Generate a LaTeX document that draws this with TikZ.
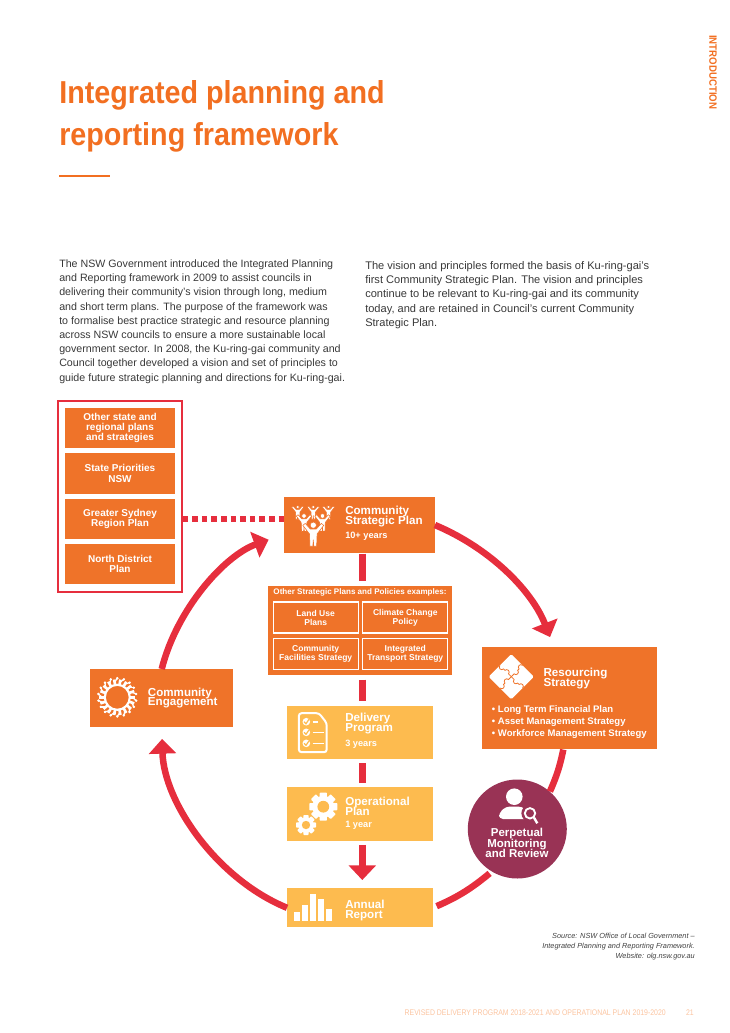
\documentclass[tikz,border=0pt]{standalone}
\usepackage{fontspec}
\setmainfont{Liberation Sans}
\newfontfamily\titlefont[FakeStretch=0.905]{Liberation Sans}
\newfontfamily\footfont[FakeStretch=0.85]{Liberation Sans}
\usetikzlibrary{arrows.meta}

\definecolor{planorange}{HTML}{EF7329}
\definecolor{planyellow}{HTML}{FDBB4F}
\definecolor{planred}{HTML}{E62E3D}
\definecolor{planmaroon}{HTML}{993355}
\definecolor{headorange}{HTML}{F26F21}
\definecolor{footorange}{HTML}{FBC4A0}

\def\pxu{0.75pt}
\newcommand{\tightlines}{\lineskiplimit=-10pt\relax}

\tikzset{
    box/.style={fill=#1, inner sep=0pt, text=white, align=center},
    box/.default=planorange,
    sidebox/.style={box, minimum width=110*\pxu, minimum height=40.5*\pxu,
        font=\bfseries\fontsize{7.5}{7.8}\selectfont\tightlines},
    framebox/.style={draw=white, line width=0.8pt, inner sep=0pt, text=white, align=center,
        minimum width=85*\pxu, minimum height=31*\pxu,
        font=\bfseries\fontsize{6.4}{6.8}\selectfont\tightlines},
    steptitle/.style={anchor=west, inner sep=0pt, text=white, align=left,
        font=\bfseries\fontsize{8.7}{7.4}\selectfont\tightlines},
    stepyears/.style={anchor=west, inner sep=0pt, text=white,
        font=\bfseries\fontsize{6.9}{8}\selectfont},
    bodytext/.style={anchor=north west, inner sep=0pt, align=left, text=black!78,
        font=\fontsize{8}{10.65}\selectfont},
    ring/.style={draw=planred, line width=4.9pt},
    ringhead/.style={ring, -{Triangle[width=20pt,length=11pt]}},
    spine/.style={draw=planred, line width=5pt},
    personicon/.pic={
        \fill[white, draw=planorange, line width=0.4pt] (-1.1,-.7) -- (-.85,-.9) -- (-.3,-.3) -- (.3,-.3)
            -- (.85,-.9) -- (1.1,-.7) -- (.4,.2) -- (.35,1.5) -- (.05,1.5) -- (0,.8)
            -- (-.05,1.5) -- (-.35,1.5) -- (-.4,.2) -- cycle;
        \fill[white, draw=planorange, line width=0.4pt] (0,-.72) circle (.33);
    },
    gearicon/.pic={
        \fill[white] (0,0) circle (.78);
        \foreach \a in {0,45,...,315} {
            \fill[white, rotate=\a, rounded corners=.5pt] (.6,-.26) rectangle (1,.26);
        }
        \fill[planyellow] (0,0) circle (.42);
    }
}

\begin{document}
\begin{tikzpicture}[x=\pxu, y=-\pxu]
    \useasboundingbox (0,0) rectangle (730,1033);

    % Page heading
    \node[anchor=base west, inner sep=0pt, align=left, text=headorange,
        font=\titlefont\bfseries\fontsize{23.8}{31}\selectfont] (title) at (59,145)
        {Integrated planning and\\reporting framework};
    \coordinate (ruleleft) at (59,176);
    \coordinate (ruleright) at (110,176);
    \draw[headorange, line width=1.3pt] (ruleleft) -- (ruleright);
    \node[rotate=-90, anchor=west, inner sep=0pt, text=headorange,
        font=\titlefont\bfseries\fontsize{8}{8}\selectfont] (section) at (713,35) {INTRODUCTION};

    % Two columns of text
    \node[bodytext] (colleft) at (59,259.5) {The NSW Government introduced the Integrated Planning\\
        and Reporting framework in 2009 to assist councils in\\
        delivering their community's vision through long, medium\\
        and short term plans. The purpose of the framework was\\
        to formalise best practice strategic and resource planning\\
        across NSW councils to ensure a more sustainable local\\
        government sector. In 2008, the Ku-ring-gai community and\\
        Council together developed a vision and set of principles to\\
        guide future strategic planning and directions for Ku-ring-gai.};
    \node[bodytext, font=\fontsize{8.3}{10.65}\selectfont] (colright) at (365,261.2) {The vision and principles formed the basis of Ku-ring-gai's\\
        first Community Strategic Plan. The vision and principles\\
        continue to be relevant to Ku-ring-gai and its community\\
        today, and are retained in Council's current Community\\
        Strategic Plan.};

    % Left column of plans
    \node[draw=planred, line width=1.6pt, minimum width=124*\pxu, minimum height=191*\pxu] (outer) at (119.6,496.2) {};
    \node[sidebox] (otherstate) at (120,428) {Other state and\\regional plans\\and strategies};
    \node[sidebox] (priorities) at (120,473.5) {State Priorities\\NSW};
    \node[sidebox] (sydney) at (120,518.8) {Greater Sydney\\Region Plan};
    \node[sidebox] (north) at (120,564.2) {North District\\Plan};

    % Main boxes
    \node[box, minimum width=150.7*\pxu, minimum height=56.6*\pxu] (csp) at (359.3,525) {};
    \node[box, minimum width=183.7*\pxu, minimum height=89.6*\pxu] (other) at (360.2,630.5) {};
    \node[box=planyellow, minimum width=145.4*\pxu, minimum height=53.3*\pxu] (delivery) at (360,732.4) {};
    \node[box=planyellow, minimum width=145.4*\pxu, minimum height=53.3*\pxu] (operational) at (360,814) {};
    \node[box=planyellow, minimum width=145.4*\pxu, minimum height=39*\pxu] (annual) at (360,907.8) {};
    \node[box, minimum width=175.3*\pxu, minimum height=102*\pxu] (resourcing) at (569.6,698.3) {};
    \node[box, minimum width=143.3*\pxu, minimum height=57.4*\pxu] (engagement) at (161.7,698) {};
    \node[circle, fill=planmaroon, inner sep=0pt, minimum size=99*\pxu] (monitor) at (517.3,829) {};

    % Inner frames of the policies box
    \node[inner sep=0pt, text=white, font=\bfseries\fontsize{6.05}{6}\selectfont] (othertitle) at (360,592.7)
        {Other Strategic Plans and Policies examples:};
    \node[framebox] (landuse) at (315.7,617.5) {Land Use\\Plans};
    \node[framebox] (climate) at (405.3,617.5) {Climate Change\\Policy};
    \node[framebox] (facilities) at (315.7,654) {Community\\Facilities Strategy};
    \node[framebox] (transport) at (405.3,654) {Integrated\\Transport Strategy};

    % Box texts
    \node[steptitle] (csptitle) at (345,516.5) {Community\\Strategic Plan};
    \node[stepyears] (cspyears) at (345,536.5) {10+ years};
    \node[steptitle] (deliverytitle) at (345,723.5) {Delivery\\Program};
    \node[stepyears] (deliveryyears) at (345,744) {3 years};
    \node[steptitle] (operationaltitle) at (345,806) {Operational\\Plan};
    \node[stepyears] (operationalyears) at (345,825.5) {1 year};
    \node[steptitle] (annualtitle) at (345,910.5) {Annual\\Report};
    \node[steptitle] (resourcingtitle) at (543.3,678.5) {Resourcing\\Strategy};
    \node[steptitle] (engagementtitle) at (147.7,698) {Community\\Engagement};
    \node[anchor=west, inner sep=0pt, text=white, align=left,
        font=\bfseries\fontsize{7.15}{8.75}\selectfont] (resourcinglist) at (491.7,722)
        {• Long Term Financial Plan\\• Asset Management Strategy\\• Workforce Management Strategy};
    \node[inner sep=0pt, text=white, align=center,
        font=\bfseries\fontsize{8.6}{7.6}\selectfont\tightlines] (monitortitle) at (517,843)
        {Perpetual\\Monitoring\\and Review};

    % Dotted link and the spine
    \draw[draw=planred, line width=4.5pt, dash pattern=on 4.1pt off 3.1pt]
        (sydney.east -| outer.east) -- (sydney.east -| csp.west);
    \coordinate (spinex) at (362.3,0);
    \draw[spine, shorten >=3pt] (csp.south -| spinex) -- (other.north -| spinex);
    \draw[spine, shorten <=3pt, shorten >=3pt] (other.south -| spinex) -- (delivery.north -| spinex);
    \draw[spine, shorten <=3pt, shorten >=3pt] (delivery.south -| spinex) -- (operational.north -| spinex);
    \draw[spine, shorten <=3pt, shorten >=6pt, -{Triangle[width=20pt,length=11pt]}]
        (operational.south -| spinex) -- (annual.north -| spinex);

    % The ring
    \draw[ringhead, shorten >=8pt] (csp.east) to[bend left=23, looseness=.9] (resourcing.107);
    \draw[ring] (resourcing.263) to[bend left=6] (monitor.49);
    \draw[ring, shorten <=2pt, shorten >=3pt] (monitor.239) to[bend left=8] (annual.east);
    \draw[ringhead, shorten >=9pt] (annual.west) to[bend left=33, looseness=.88] (engagement.south);
    \draw[ringhead, shorten >=12pt] (engagement.north) to[bend left=28, looseness=.88] (csp.187);

    % Icon of the people
    \path (297.7,511) pic[scale=5.5] {personicon};
    \path (328.5,511) pic[scale=5.5] {personicon};
    \path (313.3,511) pic[scale=5.5] {personicon};
    \path (304,521) pic[scale=7] {personicon};
    \path (322.5,521) pic[scale=7] {personicon};
    \path (313.3,532) pic[scale=9.5] {personicon};

    % Icon of the ring of people
    \draw[white, line width=1.6pt] (117.3,697.3) circle (12.5);
    \foreach \a in {0,20,...,340} {
        \draw[white, line width=2pt] (117.3,697.3) ++(\a:12) -- ++(\a:6);
        \fill[white] (117.3,697.3) ++(\a+10:19) circle (1.4);
        \draw[white, line width=.9pt] (117.3,697.3) ++(\a:15) -- ++(\a+40:6);
    }

    % Icon of the puzzle
    \begin{scope}[shift={(511.3,676.7)}, rotate=45]
        \fill[white, rounded corners=1pt] (-16,-16) rectangle (16,16);
        \foreach \a in {0,90,180,270} {
            \draw[planorange, line width=.6pt, rotate=\a] (0,0) -- (4,0) arc[start angle=180, end angle=0, radius=2.5]
                -- (11,0) arc[start angle=180, end angle=360, radius=2.5];
        }
    \end{scope}

    % Icon of the checklist
    \draw[white, line width=1.5pt, rounded corners=2pt] (298.9,713.2) -- (319,713.2) -- (326.7,723)
        -- (326.7,752.2) -- (298.9,752.2) -- cycle;
    \foreach \y/\e in {721.7/318, 732.3/324, 743.3/324} {
        \fill[white] (306.3,\y) circle (3.8);
        \draw[planyellow, line width=.9pt] (304,\y) -- (306,\y+2) -- (309,\y-2.4);
        \draw[white, line width=1.2pt] (312.5,\y) -- (\e,\y);
    }

    % Icon of the gears
    \path (323.3,806.7) pic[scale=14] {gearicon};
    \path (306,825) pic[scale=10] {gearicon};

    % Icon of the bars
    \foreach \x/\t in {294/912, 302.3/905, 310/894, 317.7/899, 326/908.5} {
        \fill[white] (\x,\t) rectangle ++(6,921-\t);
    }

    % Icon of the person with a magnifier
    \fill[white] (514.3,796.7) circle (8.3);
    \fill[white, rounded corners=3pt] (499,819) -- (499,813) -- (506,806.5) -- (522,806.5) -- (530,813) -- (530,819) -- cycle;
    \draw[planmaroon, line width=3pt] (530,813.3) circle (6.6);
    \fill[planmaroon] (530,813.3) circle (6);
    \draw[white, line width=1.4pt] (530,813.3) circle (5.2);
    \draw[white, line width=1.8pt] (534,817.6) -- (537.3,823.3);

    % Source and footer
    \node[anchor=north east, inner sep=0pt, align=right,
        font=\itshape\fontsize{5.5}{7.6}\selectfont, text=black!75] (source) at (695,933)
        {Source: NSW Office of Local Government --\\Integrated Planning and Reporting Framework.\\Website: olg.nsw.gov.au};
    \node[anchor=east, inner sep=0pt, text=footorange, font=\footfont\fontsize{6.1}{6}\selectfont] (footer) at (666,1013)
        {REVISED DELIVERY PROGRAM 2018-2021 AND OPERATIONAL PLAN 2019-2020};
    \node[anchor=east, inner sep=0pt, text=footorange, font=\footfont\fontsize{6.1}{6}\selectfont] (pageno) at (694,1013) {21};
\end{tikzpicture}
\end{document}
